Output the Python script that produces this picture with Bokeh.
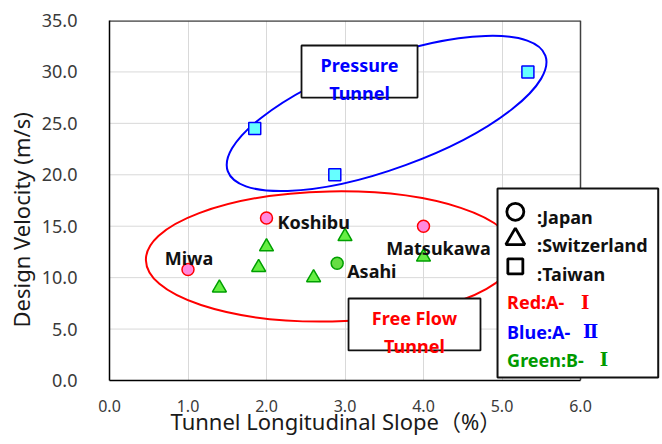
from bokeh.plotting import figure
from bokeh.models import (Range1d, FixedTicker, NumeralTickFormatter, Label,
                          PolyAnnotation, Title)
from bokeh.embed import file_html
from bokeh.resources import INLINE

# ---------------- data ----------------
japan_a1_names = ["Miwa", "Koshibu", "Matsukawa"]
japan_a1_slope = [1.0, 2.0, 4.0]
japan_a1_velocity = [10.8, 15.8, 15.0]

japan_b1_names = ["Asahi"]
japan_b1_slope = [2.9]
japan_b1_velocity = [11.4]

swiss_b1_slope = [1.4, 1.9, 2.0, 2.6, 3.0, 4.0]
swiss_b1_velocity = [9.0, 11.0, 13.0, 10.0, 14.0, 12.0]

taiwan_a2_slope = [1.85, 2.87, 5.33]
taiwan_a2_velocity = [24.5, 20.0, 30.0]

x_ticks = [0, 1, 2, 3, 4, 5, 6]
y_ticks = [0, 5, 10, 15, 20, 25, 30, 35]

x_title = "Tunnel Longitudinal Slope（%）"
y_title = "Design Velocity (m/s)"

legend_markers = ["circle", "triangle", "square"]
legend_countries = [":Japan", ":Switzerland", ":Taiwan"]
legend_classes = ["Red:A-", "Blue:A-", "Green:B-"]
legend_numerals = ["Ⅰ", "Ⅱ", "Ⅰ"]
legend_class_colors = ["#ff0000", "#0000ff", "#009a00"]

# ---------------- figure ----------------
FONT = "'Noto Sans', sans-serif"
CJK = "'Noto Sans CJK JP'"
PX_PER_X = 78.5                      # frame pixels per slope unit
FRAME_W = 552
p = figure(frame_width=FRAME_W, frame_height=360,
           x_range=Range1d(0, FRAME_W / PX_PER_X), y_range=Range1d(0, 35),
           output_backend="svg", toolbar_location=None,
           min_border_left=109, min_border_right=0,
           min_border_top=20, min_border_bottom=60)
p.background_fill_color = "white"
p.border_fill_color = "white"
p.outline_line_color = None

p.ygrid.visible = False
p.xgrid.grid_line_color = "#d9d9d9"
p.xgrid.grid_line_width = 1

p.xaxis.ticker = FixedTicker(ticks=x_ticks)
p.yaxis.ticker = FixedTicker(ticks=y_ticks)
p.xgrid.ticker = FixedTicker(ticks=x_ticks)
p.xaxis.formatter = NumeralTickFormatter(format="0.0")
p.yaxis.formatter = NumeralTickFormatter(format="0.0")
p.xaxis.bounds = (x_ticks[0], x_ticks[-1])
for ax in (p.xaxis, p.yaxis):
    ax.major_tick_line_color = None
    ax.minor_tick_line_color = None
    ax.axis_line_color = "black"
    ax.axis_line_width = 1.5
    ax.major_label_text_font = FONT
    ax.major_label_text_color = "#3a3a3a"
p.xaxis.major_label_text_font_size = "16px"
p.yaxis.major_label_text_font_size = "18px"
p.xaxis.major_label_standoff = 13
p.yaxis.major_label_standoff = 26

# axis titles as side titles so they can be placed like the original
p.add_layout(Title(text=x_title, align="left", offset=61, standoff=-18,
                   vertical_align="top",
                   text_font=FONT + ", " + CJK, text_font_size="22px",
                   text_font_style="normal", text_color="#1a1a1a"), "below")
p.add_layout(Title(text=y_title, align="left", offset=53, standoff=6,
                   text_font=FONT, text_font_size="22px",
                   text_font_style="normal", text_color="#1a1a1a"), "left")

# horizontal grid and plot-area border limited to the 0..6 area
n = len(y_ticks)
p.segment(x0=[x_ticks[0]] * n, x1=[x_ticks[-1]] * n, y0=y_ticks, y1=y_ticks,
          line_color="#d9d9d9", line_width=1)
p.segment(x0=[x_ticks[0], x_ticks[-1]], x1=[x_ticks[-1], x_ticks[-1]],
          y0=[y_ticks[-1], y_ticks[0]], y1=[y_ticks[-1], y_ticks[-1]],
          line_color="#404040", line_width=[2.5, 1.5])

# ellipses (group outlines)
p.ellipse(x=[3.53], y=[25.96], width=[338], height=[110], angle=[0.35],
          width_units="screen", height_units="screen",
          fill_color=None, line_color="#0000ff", line_width=2)
p.ellipse(x=[2.82], y=[12.06], width=[370], height=[130], angle=[0.02],
          width_units="screen", height_units="screen",
          fill_color=None, line_color="#ff0000", line_width=2)

# points
p.scatter(japan_a1_slope, japan_a1_velocity, marker="circle", size=12,
          fill_color="#ff88dd", line_color="#ff0000", line_width=1.5)
p.scatter(japan_b1_slope, japan_b1_velocity, marker="circle", size=12,
          fill_color="#66dd44", line_color="#00a000", line_width=1.5)
p.scatter(swiss_b1_slope, swiss_b1_velocity, marker="triangle", size=14,
          fill_color="#66ee44", line_color="#00a000", line_width=1.5)
p.scatter(taiwan_a2_slope, taiwan_a2_velocity, marker="square", size=12,
          fill_color="#66ffff", line_color="#0000ff", line_width=1.5)

# point name labels: (x_offset px, y_offset px, align)
name_style = {
    "Miwa": (1, 11, "center"),
    "Koshibu": (11, -4, "left"),
    "Matsukawa": (15, -22, "center"),
    "Asahi": (10, -8, "left"),
}
for names, xs, ys in ((japan_a1_names, japan_a1_slope, japan_a1_velocity),
                      (japan_b1_names, japan_b1_slope, japan_b1_velocity)):
    for nm, x, y in zip(names, xs, ys):
        dx, dy, al = name_style[nm]
        p.add_layout(Label(x=x, y=y, x_offset=dx, y_offset=dy, text=nm,
                           text_align=al, text_baseline="alphabetic",
                           text_font=FONT, text_font_size="18px",
                           text_font_style="bold", text_color="#111111"))

# text boxes
def box(x0, x1, y0, y1):
    p.add_layout(PolyAnnotation(xs=[x0, x1, x1, x0], ys=[y0, y0, y1, y1],
                                fill_color="white", fill_alpha=1.0,
                                line_color="#111111", line_alpha=1.0,
                                line_width=1.8))

box(2.446, 3.924, 27.51, 32.57)
for t, yy in (("Pressure", 30.63), ("Tunnel", 28.0)):
    p.add_layout(Label(x=3.185, y=yy, text=t, text_align="center",
                       text_baseline="alphabetic", text_font=FONT,
                       text_font_size="18px", text_font_style="bold",
                       text_color="#0000ff"))

box(3.045, 4.726, 2.92, 7.97)
for t, yy in (("Free Flow", 6.03), ("Tunnel", 3.40)):
    p.add_layout(Label(x=3.885, y=yy, text=t, text_align="center",
                       text_baseline="alphabetic", text_font=FONT,
                       text_font_size="18px", text_font_style="bold",
                       text_color="#ff0000"))

# legend box (a glyph so that it sits above the ellipse and frame border)
p.quad(left=[4.943], right=[6.99], bottom=[0.29], top=[18.67],
       fill_color="white", line_color="#111111", line_width=2)
sym_y = [16.4, 13.75, 11.1]
base_y = [15.88, 13.19, 10.37]
p.scatter([5.17] * 3, sym_y, marker=legend_markers, size=[17, 19, 15],
          fill_color="white", line_color="black", line_width=2.8)
for t, by in zip(legend_countries, base_y):
    p.add_layout(Label(x=5.447, y=by, text=t, text_align="left",
                       text_baseline="alphabetic", text_font=FONT,
                       text_font_size="18px", text_font_style="bold",
                       text_color="#111111"))
num_x = [6.06, 6.13, 6.30]
for t, r, c, by, nx in zip(legend_classes, legend_numerals, legend_class_colors,
                           [7.61, 4.76, 2.04], num_x):
    p.add_layout(Label(x=5.065, y=by, text=t, text_align="left",
                       text_baseline="alphabetic", text_font=FONT,
                       text_font_size="18px", text_font_style="bold",
                       text_color=c))
    p.add_layout(Label(x=nx, y=by, text=r, text_align="center",
                       text_baseline="alphabetic",
                       text_font="'DejaVu Serif', " + CJK,
                       text_font_size="18px", text_font_style="bold",
                       text_color=c))

open("out.html", "w").write(file_html(p, INLINE))
